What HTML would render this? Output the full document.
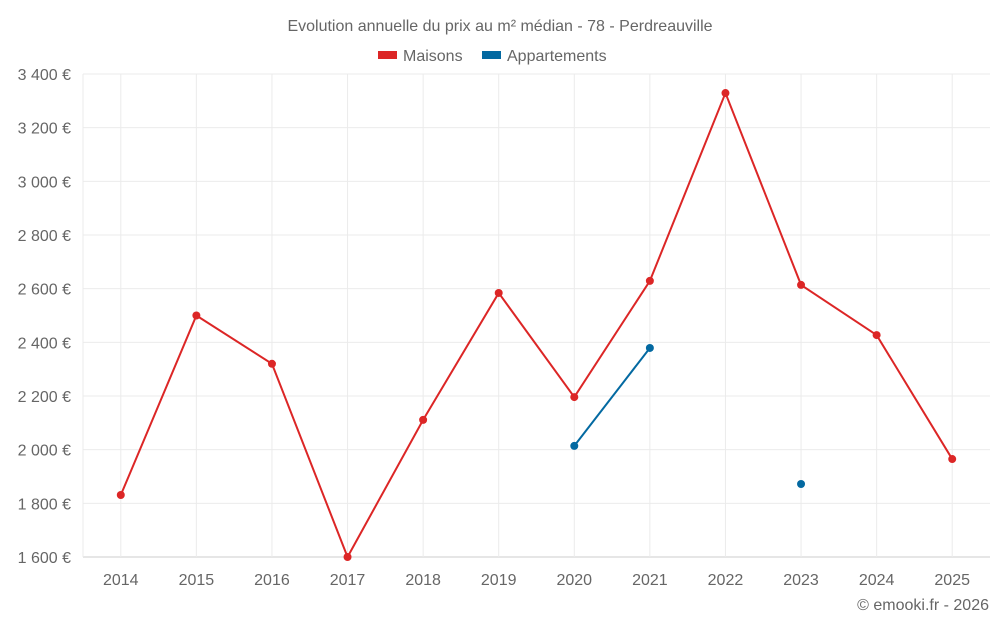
<!DOCTYPE html>
<html><head><meta charset="utf-8"><style>
body{margin:0;background:#fff;font-family:"Liberation Sans",Roboto,sans-serif;}
svg text{font-family:"Liberation Sans",sans-serif;fill:#666;}
</style></head><body>
<svg id="chart" width="1000" height="625">
<text x="500" y="31" text-anchor="middle" font-size="16">Evolution annuelle du prix au m² médian - 78 - Perdreauville</text>
<g>
<rect x="378" y="51" width="19" height="8" fill="#dc2626"/>
<text x="403" y="61" font-size="16">Maisons</text>
<rect x="482" y="51" width="19" height="8" fill="#0369a1"/>
<text x="507" y="61" font-size="16">Appartements</text>
</g>
<g id="grid"></g><g id="axes"></g><g id="series"></g>
<text x="989" y="610" text-anchor="end" font-size="16">© emooki.fr - 2026</text>
</svg>
<script>
const years=[2014,2015,2016,2017,2018,2019,2020,2021,2022,2023,2024,2025];
const maisons=[1831,2500,2320,1600,2111,2584,2196,2629,3329,2614,2427,1965];
const appartements=[null,null,null,null,null,null,2014,2379,null,1872,null,null];
const yTicks=[1600,1800,2000,2200,2400,2600,2800,3000,3200,3400];
const L=83,R=990,T=74,B=557,yMin=1600,yMax=3400;
const ns="http://www.w3.org/2000/svg";
const step=(R-L)/years.length;
const x=i=>L+step*(i+0.5);
const y=v=>B-(v-yMin)/(yMax-yMin)*(B-T);
function mk(tag,attrs,parent){const e=document.createElementNS(ns,tag);for(const k in attrs)e.setAttribute(k,attrs[k]);document.getElementById(parent).appendChild(e);return e;}
const fmt=v=>String(v).replace(/\B(?=(\d{3})+(?!\d))/g," ")+" €";
yTicks.forEach(v=>{
 const g=mk('line',{x1:L,x2:R,y1:y(v),y2:y(v),stroke:v===yMin?'#ccc':'#ebebeb'},'grid');
 
 
 const t=mk('text',{x:L-12,y:y(v)+6,'text-anchor':'end','font-size':16},'axes');
 t.textContent=fmt(v);
 
 
});
const ax=mk('line',{x1:L,x2:L,y1:T,y2:B,stroke:'#ebebeb'},'grid');


years.forEach((yr,i)=>{
 const g=mk('line',{x1:x(i),x2:x(i),y1:T,y2:B,stroke:'#ebebeb'},'grid');
 
 
 const t=mk('text',{x:x(i),y:585,'text-anchor':'middle','font-size':16},'axes');
 t.textContent=yr;
 
 
});
function series(vals,color,name){
 let seg=[];const segs=[];
 vals.forEach((v,i)=>{if(v==null){if(seg.length)segs.push(seg);seg=[];}else seg.push([x(i),y(v)]);});
 if(seg.length)segs.push(seg);
 segs.forEach(s=>{if(s.length>1){const p=mk('polyline',{points:s.map(q=>q.join(',')).join(' '),fill:'none',stroke:color,'stroke-width':2},'series');
 
 }});
 vals.forEach((v,i)=>{if(v==null)return;const c=mk('circle',{cx:x(i),cy:y(v),r:4,fill:color},'series');
 
 });
}
series(maisons,'#dc2626','maisons');
series(appartements,'#0369a1','appartements');
</script>
</body></html>
